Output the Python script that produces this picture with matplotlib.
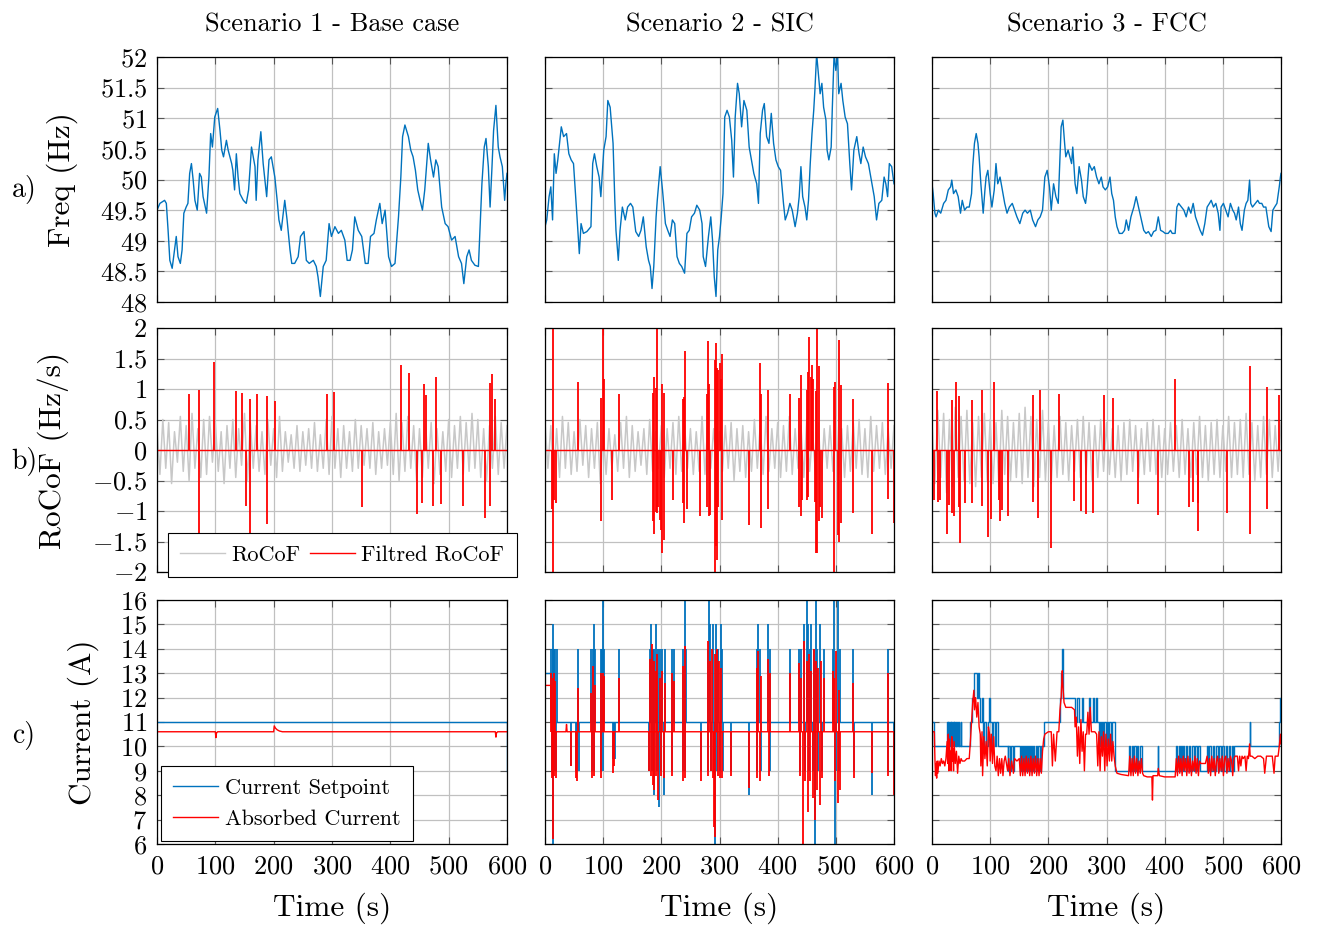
import numpy as np
import matplotlib
matplotlib.use("Agg")
import matplotlib.pyplot as plt
from matplotlib.lines import Line2D
from matplotlib.ticker import FuncFormatter

plt.rcParams["font.family"] = "serif"
plt.rcParams["font.serif"] = ["cmr10", "DejaVu Serif"]
plt.rcParams["mathtext.fontset"] = "cm"
plt.rcParams["axes.formatter.use_mathtext"] = True
plt.rcParams["axes.unicode_minus"] = False

BLUE = "#0072BD"
RED = "#FF0000"
GREY = "#C8C8C8"

titles = ["Scenario 1 - Base case", "Scenario 2 - SIC", "Scenario 3 - FCC"]

# ---- frequency (Hz) ----
f1_t = [0, 5, 13, 16, 19, 22, 26, 30, 33, 36, 40, 43, 46, 50, 53, 56, 59, 62, 65, 69,
        73, 76, 79, 85, 89, 92, 95, 99, 104, 108, 111, 114, 119, 122, 128, 130, 133, 136, 139, 142,
        148, 153, 157, 162, 168, 170, 173, 178, 182, 188, 192, 196, 202, 206, 209, 213, 219, 223, 228, 231,
        236, 242, 246, 252, 256, 261, 268, 273, 276, 280, 285, 290, 295, 299, 305, 311, 316, 322, 326, 331,
        335, 339, 345, 351, 357, 362, 366, 372, 376, 382, 386, 391, 397, 402, 408, 414, 418, 421, 425, 431,
        435, 439, 443, 447, 451, 455, 459, 465, 469, 474, 478, 482, 488, 494, 499, 505, 511, 517, 522, 526,
        531, 535, 539, 545, 551, 557, 561, 564, 568, 571, 574, 577, 581, 585, 588, 592, 596, 598, 600]
f1_v = [49.50, 49.61, 49.66, 49.61, 49.17, 48.68, 48.55, 48.85, 49.07, 48.74,
        48.63, 48.85, 49.45, 49.55, 49.61, 50.10, 50.26, 49.99, 49.66, 49.50,
        50.10, 50.04, 49.72, 49.45, 50.04, 50.75, 50.53, 51.02, 51.16, 50.80,
        50.48, 50.37, 50.64, 50.48, 50.26, 50.15, 49.83, 50.42, 50.04, 49.77,
        49.66, 49.61, 49.83, 50.53, 50.21, 49.66, 50.32, 50.78, 50.26, 49.72,
        50.32, 50.37, 50.04, 49.66, 49.34, 49.17, 49.66, 49.34, 48.85, 48.63,
        48.63, 48.74, 49.07, 49.15, 48.68, 48.63, 48.68, 48.58, 48.41, 48.09,
        48.58, 48.68, 49.28, 49.07, 49.23, 49.12, 49.17, 49.01, 48.68, 48.68,
        48.85, 49.39, 49.17, 49.07, 48.63, 48.63, 49.07, 49.12, 49.34, 49.61,
        49.28, 49.50, 48.74, 48.58, 48.63, 49.39, 50.04, 50.70, 50.89, 50.70,
        50.48, 50.37, 50.15, 49.83, 49.66, 49.50, 49.83, 50.59, 50.32, 50.04,
        50.32, 50.21, 49.55, 49.28, 49.23, 49.01, 49.07, 48.74, 48.63, 48.30,
        48.74, 48.85, 48.68, 48.60, 48.58, 49.93, 50.53, 50.67, 50.21, 49.55,
        50.15, 50.80, 51.21, 50.53, 50.37, 50.21, 49.66, 49.93, 50.10]

f2_t = [0, 3, 7, 10, 13, 16, 19, 22, 25, 28, 32, 37, 41, 45, 49, 52, 55, 59, 62, 66,
        72, 79, 82, 85, 89, 93, 96, 101, 105, 108, 112, 117, 120, 122, 126, 129, 133, 138, 142, 147,
        151, 156, 161, 165, 169, 174, 178, 181, 184, 187, 191, 193, 198, 202, 207, 211, 215, 219, 223, 227,
        231, 235, 240, 244, 248, 252, 257, 261, 266, 270, 272, 276, 281, 285, 288, 291, 294, 297, 300, 303,
        306, 309, 313, 317, 321, 324, 327, 331, 334, 338, 342, 347, 351, 355, 359, 364, 367, 370, 374, 377,
        381, 385, 389, 393, 397, 401, 405, 410, 413, 417, 421, 425, 430, 434, 437, 440, 443, 447, 450, 453,
        456, 459, 462, 464, 467, 470, 473, 476, 479, 483, 485, 488, 492, 494, 497, 500, 503, 505, 509, 512,
        516, 520, 524, 527, 531, 536, 540, 543, 547, 551, 556, 560, 563, 566, 570, 574, 579, 583, 586, 589,
        592, 596, 600]
f2_v = [49.23, 49.34, 49.72, 49.88, 49.34, 50.42, 50.10, 50.32, 50.59, 50.86,
        50.70, 50.75, 50.42, 50.32, 50.26, 49.83, 49.39, 48.79, 49.28, 49.12,
        49.15, 49.23, 50.26, 50.42, 50.21, 50.04, 49.72, 50.48, 50.70, 51.29,
        51.18, 50.59, 49.66, 49.17, 48.68, 49.17, 49.55, 49.34, 49.55, 49.61,
        49.55, 49.15, 49.07, 49.17, 49.39, 48.90, 48.68, 48.58, 48.22, 48.58,
        49.39, 49.66, 50.21, 49.83, 49.28, 49.17, 49.07, 49.34, 49.28, 48.74,
        48.63, 48.58, 48.47, 49.12, 49.17, 49.39, 49.45, 49.58, 49.50, 49.28,
        48.74, 48.58, 49.07, 49.39, 49.01, 48.41, 48.09, 48.85, 49.07, 49.39,
        49.77, 51.02, 51.13, 51.02, 50.64, 50.04, 51.02, 51.57, 51.40, 50.86,
        51.29, 51.13, 50.53, 50.32, 50.10, 49.93, 49.61, 50.75, 51.13, 51.24,
        50.70, 50.59, 51.08, 50.59, 50.32, 50.21, 50.15, 49.61, 49.34, 49.45,
        49.61, 49.50, 49.23, 49.45, 49.72, 50.21, 49.72, 49.55, 49.34, 49.66,
        50.26, 50.75, 51.13, 51.46, 52.05, 51.73, 51.40, 51.57, 51.18, 50.97,
        50.48, 50.32, 50.53, 51.18, 52.05, 51.78, 52.05, 51.40, 51.57, 51.29,
        51.02, 50.91, 50.26, 49.83, 50.48, 50.70, 50.42, 50.26, 50.53, 50.37,
        50.26, 50.04, 49.88, 49.72, 49.34, 49.61, 49.66, 50.04, 49.93, 49.72,
        50.26, 50.21, 49.93]

f3_t = [0, 2, 5, 7, 11, 15, 20, 24, 28, 32, 34, 37, 41, 45, 49, 52, 56, 60, 64, 68,
        70, 73, 76, 79, 81, 84, 88, 91, 93, 96, 100, 103, 107, 110, 113, 117, 121, 125, 129, 133,
        138, 142, 146, 151, 156, 160, 164, 169, 173, 178, 182, 186, 190, 194, 198, 202, 205, 209, 213, 217,
        219, 222, 225, 228, 230, 234, 237, 240, 242, 246, 249, 253, 257, 260, 264, 266, 270, 275, 279, 283,
        287, 291, 294, 298, 302, 306, 309, 312, 315, 318, 322, 327, 331, 334, 338, 342, 347, 351, 355, 360,
        364, 368, 372, 377, 381, 385, 389, 393, 397, 401, 406, 410, 413, 418, 421, 424, 429, 433, 437, 441,
        445, 449, 453, 457, 461, 465, 469, 473, 477, 480, 484, 488, 492, 495, 497, 501, 505, 509, 513, 517,
        520, 523, 527, 530, 533, 537, 540, 543, 546, 548, 551, 556, 560, 563, 567, 570, 574, 579, 583, 586,
        589, 593, 597, 599, 600]
f3_v = [49.93, 49.77, 49.45, 49.39, 49.50, 49.45, 49.61, 49.66, 49.83, 49.88,
        49.99, 49.77, 49.83, 49.72, 49.45, 49.66, 49.50, 49.55, 49.55, 49.77,
        50.21, 50.59, 50.75, 50.59, 50.37, 49.93, 49.45, 49.83, 50.04, 50.15,
        49.77, 49.55, 49.83, 50.26, 49.93, 50.04, 49.83, 49.61, 49.45, 49.55,
        49.61, 49.50, 49.39, 49.28, 49.45, 49.50, 49.45, 49.50, 49.34, 49.23,
        49.34, 49.39, 49.50, 50.04, 50.15, 49.88, 49.50, 49.93, 49.72, 49.61,
        50.10, 50.86, 50.97, 50.59, 50.37, 50.48, 50.37, 50.26, 50.53, 49.93,
        49.77, 50.21, 49.99, 49.72, 49.61, 49.77, 50.26, 50.15, 50.21, 50.04,
        49.93, 50.04, 49.88, 49.83, 49.88, 50.04, 49.77, 49.66, 49.39, 49.23,
        49.12, 49.12, 49.17, 49.34, 49.17, 49.39, 49.55, 49.72, 49.55, 49.34,
        49.17, 49.12, 49.15, 49.07, 49.15, 49.17, 49.39, 49.17, 49.15, 49.12,
        49.12, 49.17, 49.12, 49.12, 49.55, 49.61, 49.55, 49.50, 49.39, 49.55,
        49.45, 49.61, 49.39, 49.28, 49.17, 49.09, 49.28, 49.55, 49.61, 49.66,
        49.55, 49.61, 49.45, 49.17, 49.55, 49.61, 49.50, 49.39, 49.61, 49.50,
        49.45, 49.34, 49.55, 49.28, 49.17, 49.50, 49.61, 49.66, 49.99, 49.61,
        49.55, 49.61, 49.66, 49.61, 49.61, 49.55, 49.55, 49.23, 49.15, 49.50,
        49.55, 49.61, 49.88, 50.04, 50.10]

# ---- raw RoCoF (Hz/s), one sample every 5 s ----
r1 = [0.35, -0.40, 0.50, -0.30, 0.45, -0.55, 0.30, -0.20, 0.55, -0.35, 0.40, -0.50, 0.60, -0.30, 0.35,
      -0.45, 0.50, -0.40, 0.55, -0.20, 0.45, -0.35, 0.30, -0.55, 0.40, -0.30, 0.50, -0.45, 0.35, -0.25,
      0.60, -0.50, 0.45, -0.30, 0.40, -0.35, 0.30, -0.40, 0.50, -0.25, 0.35, -0.45, 0.55, -0.35, 0.30,
      -0.20, 0.25, -0.30, 0.40, -0.35, 0.30, -0.25, 0.35, -0.30, 0.45, -0.35, 0.25, -0.30, 0.50, -0.40,
      0.55, -0.30, 0.35, -0.45, 0.40, -0.30, 0.30, -0.35, 0.50, -0.30, 0.40, -0.25, 0.35, -0.30, 0.45,
      -0.40, 0.30, -0.30, 0.35, -0.25, 0.45, -0.40, 0.60, -0.50, 0.45, -0.35, 0.55, -0.30, 0.40, -0.50,
      0.35, -0.45, 0.50, -0.30, 0.45, -0.55, 0.35, -0.40, 0.30, -0.35, 0.50, -0.45, 0.40, -0.30, 0.55,
      -0.40, 0.45, -0.35, 0.60, -0.30, 0.50, -0.45, 0.35, -0.50, 0.40, -0.30, 0.55, -0.40, 0.45, -0.30, 0.40]
r2 = [0.45, -0.30, 0.40, -0.50, 0.35, -0.45, 0.55, -0.30, 0.45, -0.40, 0.30, -0.35, 0.50, -0.25, 0.40,
      -0.45, 0.35, -0.30, 0.45, -0.55, 0.30, -0.40, 0.35, -0.30, 0.25, -0.35, 0.45, -0.30, 0.55, -0.45,
      0.40, -0.35, 0.30, -0.25, 0.35, -0.40, 0.50, -0.35, 0.30, -0.30, 0.40, -0.45, 0.35, -0.30, 0.45,
      -0.40, 0.55, -0.35, 0.40, -0.30, 0.35, -0.40, 0.30, -0.35, 0.55, -0.40, 0.45, -0.30, 0.35, -0.25,
      0.30, -0.35, 0.40, -0.30, 0.45, -0.50, 0.35, -0.35, 0.40, -0.45, 0.30, -0.35, 0.50, -0.30, 0.40,
      -0.40, 0.55, -0.35, 0.35, -0.30, 0.45, -0.45, 0.40, -0.35, 0.55, -0.40, 0.35, -0.30, 0.40, -0.45,
      0.50, -0.35, 0.30, -0.40, 0.45, -0.50, 0.35, -0.30, 0.40, -0.35, 0.55, -0.40, 0.35, -0.45, 0.40,
      -0.35, 0.45, -0.30, 0.50, -0.40, 0.35, -0.45, 0.55, -0.35, 0.40, -0.30, 0.45, -0.40, 0.35, -0.30, 0.40]
r3 = [0.45, -0.55, 0.65, -0.45, 0.60, -0.70, 0.50, -0.60, 0.70, -0.45, 0.55, -0.50, 0.65, -0.55, 0.45,
      -0.60, 0.55, -0.45, 0.60, -0.50, 0.50, -0.55, 0.45, -0.60, 0.65, -0.40, 0.55, -0.50, 0.45, -0.45,
      0.60, -0.55, 0.70, -0.45, 0.55, -0.60, 0.50, -0.45, 0.65, -0.50, 0.45, -0.55, 0.40, -0.45, 0.55,
      -0.40, 0.45, -0.50, 0.40, -0.35, 0.50, -0.45, 0.55, -0.40, 0.45, -0.50, 0.40, -0.45, 0.50, -0.35,
      0.45, -0.40, 0.35, -0.45, 0.40, -0.50, 0.45, -0.40, 0.50, -0.35, 0.40, -0.45, 0.35, -0.40, 0.45,
      -0.35, 0.50, -0.40, 0.40, -0.45, 0.35, -0.40, 0.45, -0.35, 0.40, -0.45, 0.50, -0.40, 0.35, -0.45,
      0.45, -0.40, 0.55, -0.45, 0.40, -0.50, 0.45, -0.40, 0.50, -0.45, 0.40, -0.35, 0.55, -0.45, 0.45,
      -0.40, 0.50, -0.45, 0.60, -0.40, 0.45, -0.50, 0.40, -0.45, 0.55, -0.40, 0.50, -0.45, 0.40, -0.35, 0.45]

# ---- filtered RoCoF: spike times (s) and peak values (Hz/s) ----
s1_t = [54, 72, 98, 135, 145, 159, 171, 189, 203, 292, 303, 419, 432, 458, 461, 478, 571, 574, 580,
        72, 153, 159, 188, 351, 445, 454, 474, 487, 525, 563, 571]
s1_v = [0.92, 0.98, 1.45, 0.97, 0.93, 0.84, 0.92, 0.89, 0.81, 0.92, 0.95, 1.39, 1.26, 1.08, 0.90, 1.19, 1.10, 1.25, 0.84,
        -1.40, -0.91, -1.43, -1.22, -0.93, -1.05, -0.87, -0.91, -0.89, -0.91, -1.11, -0.91]
s2_t = [0, 12, 14, 14, 16, 19, 57, 97, 97, 99, 101, 116, 128,
        185, 185, 188, 188, 190, 190, 192, 192, 195, 198, 200, 202, 202, 204, 204,
        220, 237, 237, 239, 239, 241, 244, 267,
        278, 278, 280, 282, 282, 284, 292, 292, 294, 294, 296, 296, 298, 298, 300, 303, 305, 305,
        350, 369, 371, 371, 384, 384, 421, 437, 437, 440, 440, 442,
        450, 450, 452, 452, 454, 457, 459, 461, 464, 466, 466, 468, 468, 471, 471, 473, 476,
        497, 497, 499, 503, 506, 506, 509, 509, 530, 530, 563, 589, 589, 600]
s2_v = [0.87, -0.96, 2.1, -2.1, -0.82, -0.87, 1.11, 0.85, -1.16, 2.1, 1.17, -0.82, 0.92,
        0.94, -1.17, 1.20, -1.37, 1.01, -1.01, 2.1, -1.03, -0.93, -1.15, -1.31, 1.08, -1.69, 0.93, -1.48,
        -0.82, 0.83, -0.87, 0.87, -1.20, 1.63, -0.96, -1.09,
        0.92, -0.93, 1.78, 1.09, -1.09, -1.07, 1.48, -2.1, 1.75, -1.58, 1.34, -1.80, 1.31, -0.93, 1.42, 1.17, 1.58, -1.15,
        -1.23, 1.43, 0.92, -1.28, 0.98, -0.96, 0.92, 0.85, -0.93, 1.23, -1.09, -0.82,
        0.98, -0.82, 1.28, -0.77, 1.86, 1.20, 1.39, 1.17, -0.85, 0.96, -1.69, 2.1, -1.69, 1.37, -1.17, -0.93, -1.12,
        1.04, -2.1, 1.12, -1.39, 1.80, -1.50, 1.07, -1.20, 0.83, -1.03, -1.37, 1.10, -0.81, -1.20]
s3_t = [3, 9, 11, 14, 26, 30, 34, 34, 38, 41, 46, 46, 48, 56, 68, 68, 86, 86, 97, 101, 107, 115, 117, 120,
        131, 174, 174, 182, 186, 205, 219, 244, 257, 264, 276, 295, 311, 354, 389, 418, 441, 448, 457, 458,
        507, 546, 546, 576, 576, 597]
s3_v = [-0.82, 0.97, -0.86, -0.82, -1.38, -0.90, 0.82, -1.03, -1.08, 1.11, 0.89, -0.94, -1.52, -0.87, 0.82, -0.87,
        0.99, -0.91, -1.42, -1.13, 1.12, -0.82, -1.16, -0.98, -1.09, 0.90, -0.86, -1.12, 0.99, -1.61, 0.92, -0.83,
        -1.00, -1.05, -1.04, 0.90, 0.86, -0.89, -1.07, 1.16, -0.93, -0.85, -1.33, -0.87, -1.04, 1.38, -1.37,
        1.04, -0.96, 0.90]

# ---- currents (A) ----
c1_set_t = [0, 600, 600]
c1_set_v = [11, 11, 9]
c1_abs_t = [0, 100, 101, 102, 104, 200, 201, 203, 206, 210, 215, 580, 581, 582, 584, 600]
c1_abs_v = [10.6, 10.6, 10.36, 10.55, 10.6, 10.6, 10.84, 10.75, 10.68, 10.63, 10.6, 10.6, 10.38, 10.55, 10.6, 10.6]

c2_set_t = [0, 10, 10, 600]
c2_set_v = [13, 13, 11, 11]
c2_abs_t = [0, 10, 11, 12, 36, 37, 38, 600]
c2_abs_v = [12.5, 12.5, 11.0, 10.6, 10.6, 10.9, 10.6, 10.6]
c2_sp_t = [11, 12, 13, 14, 14.5, 15, 16, 17, 18, 19, 20, 45, 53, 55, 57, 58, 79, 80, 82, 84, 85, 86,
           96, 97, 98, 99, 100, 101, 117, 119, 121, 128, 179, 181, 183, 184, 185, 187, 188, 190, 192, 194,
           196, 198, 200, 202, 204, 206, 218, 219, 221, 237, 238, 240, 241, 243, 268, 280, 281, 282, 284,
           286, 288, 290, 292, 294, 296, 298, 300, 302, 304, 306, 319, 351, 364, 365, 367, 369, 371, 384,
           386, 387, 421, 437, 438, 440, 445, 447, 450, 452, 454, 456, 458, 460, 462, 464, 466, 468, 470,
           473, 476, 479, 495, 497, 498, 500, 504, 506, 508, 530, 531, 563, 589, 590, 600]
c2_sp_v = [14, 9, 14, 15, 6, 9, 14, 9, 14, 9, 14, 9.2, 9, 9, 14, 9, 14, 9, 14, 15, 9, 14,
           14, 9, 14, 16, 9, 14, 9.5, 9.5, 9.5, 14, 9, 14, 15, 9, 14, 14, 8, 15, 9, 14,
           7.5, 14, 9, 14, 8, 14, 14, 9, 14, 14, 9, 16, 9, 14, 9, 14, 9, 16, 15,
           9, 15, 9, 6, 15, 9, 14, 9, 15, 14, 9, 9, 8, 14, 9, 15, 14, 9, 15,
           14, 9, 14, 14, 9, 14, 15, 9, 16, 15, 9, 14, 15, 9, 14, 6, 16, 14, 9,
           15, 9, 14, 14, 16, 6, 9, 16, 9, 14, 14, 9, 8, 14, 9, 9]
c2_ab_t = [11, 12, 13, 14, 15, 16, 18, 19, 45, 53, 55, 57, 79, 81, 83, 84, 86, 96, 97, 99, 101, 117, 119,
           128, 179, 181, 182, 184, 185, 187, 188, 190, 191, 193, 195, 197, 199, 202, 204, 206, 218, 219,
           221, 237, 238, 240, 241, 268, 280, 281, 283, 285, 287, 288, 290, 292, 293, 295, 297, 299, 301,
           303, 305, 319, 351, 364, 365, 367, 369, 371, 384, 385, 387, 421, 437, 438, 440, 443, 445, 447,
           450, 452, 454, 456, 458, 460, 462, 464, 466, 468, 470, 472, 474, 476, 479, 495, 497, 499, 501,
           503, 505, 508, 530, 531, 563, 589, 590, 600]
c2_ab_v = [13, 8.7, 12.8, 6.2, 13, 8.8, 12.7, 8.7, 9.2, 8.7, 8.6, 12.4, 12.2, 8.7, 13.3, 8.8, 12.5, 13, 8.7, 13, 12.9, 8.9, 9.2,
           12.8, 9, 13.6, 8.8, 14.2, 8.4, 13.5, 8.2, 13.1, 8.8, 13.8, 7.8, 12.8, 8.8, 13.1, 8.7, 12.6, 13, 8.8,
           12.7, 13.3, 8.6, 14.1, 8.7, 8.6, 14.3, 8.8, 13.5, 9, 14, 8.7, 6.7, 13.8, 6.3, 14, 8.8, 13.5, 8.7,
           13.2, 8.7, 8.8, 8.3, 13.2, 8.7, 13.9, 8.6, 12.9, 13.6, 8.8, 13, 13, 13.4, 8.8, 12.8, 6, 14.3, 8.6,
           13.5, 7.3, 13.8, 8.6, 13.1, 7.9, 14, 7, 13.5, 8.2, 13.2, 7.6, 13.5, 8.7, 12.8, 13.1, 12.8, 8.6, 13.9,
           7.7, 12.3, 8.2, 12.6, 8.7, 8.9, 13, 8.8, 8]

c3_set_t = [0, 4, 26, 27, 28, 29.5, 31, 32, 33, 35, 36, 37, 38, 40, 41, 42, 43, 45, 46, 47, 49, 50,
            66, 68, 72, 77, 79, 80, 82, 86, 87, 88, 90, 92, 96, 98, 99, 103, 105, 108, 110, 114,
            130, 131, 134, 136, 140, 141, 152, 153, 155, 157, 158, 160, 162, 163, 165, 167, 169, 170, 172,
            174, 176, 178, 180, 182, 185, 187, 192, 220, 222, 224, 225, 226, 246, 250, 252, 258, 260, 270,
            272, 276, 278, 282, 283, 287, 288, 290, 292, 294, 296, 299, 300, 303, 305, 308, 310, 315,
            338, 340, 343, 345, 348, 350, 353, 355, 358, 361, 388, 389, 420, 422, 424, 426, 428, 430, 432,
            434, 437, 439, 442, 444, 447, 450, 453, 455, 458, 460, 473, 475, 477, 480, 483, 485, 488, 491,
            494, 496, 499, 502, 505, 507, 510, 512, 515, 517, 520, 546, 546.5, 595, 597, 598, 600]
c3_set_v = [11, 10, 11, 10, 11, 10, 11, 10, 11, 10, 11, 10, 11, 10, 11, 10, 11, 10, 11, 10, 11, 10,
            11, 12, 13, 12, 13, 12, 11, 12, 11, 10, 11, 10, 11, 12, 11, 10, 11, 10, 11, 10,
            9, 10, 9, 10, 9, 10, 9, 10, 9, 10, 9, 10, 9, 10, 9, 10, 9, 10, 9,
            10, 9, 10, 9, 10, 9, 10, 11, 12, 13, 14, 13, 12, 11, 12, 11, 12, 11, 12,
            11, 12, 11, 12, 11, 10, 11, 10, 11, 10, 11, 10, 11, 10, 11, 10, 11, 9,
            10, 9, 10, 9, 10, 9, 10, 9, 10, 9, 10, 9, 10, 9, 10, 9, 10, 9, 10,
            9, 10, 9, 10, 9, 10, 9, 10, 9, 10, 9, 10, 9, 10, 9, 10, 9, 10, 9,
            10, 9, 10, 9, 10, 9, 10, 9, 10, 9, 10, 11, 10, 10, 11, 12, 12]
c3_abs_t = [0, 4, 5, 6, 7, 8, 9, 10, 12, 14, 16, 18, 20, 22, 24, 26, 27, 28, 29, 30, 31, 32, 33, 34, 35, 36, 37,
            38, 40, 42, 44, 46, 48, 50, 52, 56, 60, 64, 66, 68, 70, 72, 73, 75, 77, 79, 81, 83, 84, 86, 87,
            89, 91, 93, 95, 97, 99, 100, 102, 104, 106, 108, 110, 112, 114, 116, 118, 120, 122, 124, 126,
            130, 132, 134, 137, 140, 142, 146, 150, 152, 154, 156, 158, 160, 162, 164, 166, 168, 170, 172,
            174, 176, 178, 180, 182, 184, 186, 188, 190, 192, 194, 200, 205, 207, 209, 212, 215, 218, 220,
            222, 224, 225, 227, 230, 240, 245, 246, 248, 250, 252, 254, 256, 258, 260, 262, 264, 266, 268,
            270, 272, 274, 276, 280, 283, 285, 287, 289, 291, 293, 295, 297, 299, 301, 303, 305, 307, 309,
            311, 313, 315, 318, 325, 338, 340, 342, 344, 346, 348, 350, 352, 354, 356, 358, 360, 362, 364,
            370, 378, 379, 380, 388, 389, 391, 400, 418, 420, 422, 424, 426, 428, 430, 432, 434, 436, 438,
            440, 442, 444, 446, 448, 450, 452, 454, 456, 458, 460, 462, 470, 473, 475, 477, 479, 481, 483,
            485, 487, 489, 491, 493, 495, 497, 499, 501, 503, 505, 507, 509, 511, 513, 515, 517, 519, 521,
            525, 527, 529, 531, 533, 535, 538, 540, 542, 544, 546, 547, 550, 555, 560, 565, 570, 572, 575,
            580, 585, 588, 590, 595, 597, 599, 600]
c3_abs_v = [10.6, 10.6, 9.5, 8.8, 9.3, 8.7, 9.4, 8.9, 9.4, 9.2, 9.5, 9.3, 9.4, 9.2, 9.5, 10.2, 9.3, 10.5, 9.0, 10.3, 9.5, 9.8, 9.0, 10.4, 9.4, 9.9, 9.0,
            10.2, 9.3, 9.8, 8.9, 9.6, 9.3, 9.5, 9.4, 9.4, 9.5, 9.5, 10.2, 11.0, 11.8, 12.3, 11.5, 12.0, 11.2, 11.8, 10.8, 10.5, 9.2, 10.6, 8.8,
            10.4, 9.5, 10.2, 9.2, 10.8, 10.5, 9.4, 10.5, 9.3, 10.4, 9.2, 9.0, 9.6, 8.8, 9.5, 8.9, 9.5, 8.8, 9.4, 9.6,
            9.0, 9.5, 8.8, 9.4, 8.9, 9.5, 9.4, 9.5, 8.8, 9.6, 8.8, 9.5, 8.8, 9.6, 8.9, 9.5, 8.8, 9.6, 8.8,
            9.5, 8.9, 9.6, 8.8, 9.5, 8.8, 9.5, 8.9, 9.8, 10.3, 10.5, 10.6, 10.6, 9.2, 10.5, 9.4, 10.6, 10.6, 11.5,
            12.0, 13.1, 12.5, 11.8, 11.6, 11.6, 11.5, 10.8, 11.2, 9.6, 10.8, 9.3, 11.1, 9.8, 10.6, 9.0, 10.5, 10.5, 11.4,
            10.5, 11.6, 10.6, 10.6, 10.6, 10.5, 9.2, 10.6, 9.0, 10.4, 9.6, 10.6, 9.0, 10.5, 9.2, 10.3, 9.4, 10.5, 9.4,
            10.2, 9.6, 9.2, 8.9, 8.85, 8.8, 9.6, 8.8, 9.5, 8.8, 9.6, 8.9, 9.5, 8.8, 9.4, 8.9, 9.5, 8.9, 8.8,
            8.75, 8.75, 7.8, 8.8, 8.8, 9.1, 8.8, 8.75, 8.75, 9.5, 8.8, 9.6, 8.9, 9.5, 8.8, 9.6, 9.0, 9.5, 8.8,
            9.6, 8.9, 9.5, 8.8, 9.4, 9.0, 9.6, 8.9, 9.5, 8.8, 9.4, 9.3, 9.3, 9.6, 8.9, 9.5, 8.8, 9.6, 9.0,
            9.5, 8.8, 9.4, 9.6, 8.9, 9.5, 9.0, 9.6, 8.8, 9.5, 9.6, 8.9, 9.5, 9.0, 9.6, 9.4, 8.8, 9.5, 9.6,
            9.6, 9.0, 9.6, 9.2, 9.6, 9.5, 9.6, 9.0, 9.6, 9.5, 10.1, 9.6, 9.6, 9.5, 9.6, 9.6, 9.5, 8.9, 9.6,
            9.6, 9.6, 8.9, 9.6, 9.6, 10.0, 10.5, 10.1]

freq = [(f1_t, f1_v), (f2_t, f2_v), (f3_t, f3_v)]
rocof = [r1, r2, r3]
spikes = [(s1_t, s1_v), (s2_t, s2_v), (s3_t, s3_v)]

W, H = 1317, 926
fig = plt.figure(figsize=(W / 100, H / 100), dpi=100)

col_left = [157, 545, 932]
col_w = [350, 349, 349]
row_top = [57, 328, 600]
row_h = [245, 244, 244]

fmt = FuncFormatter(lambda v, p: "$%g$" % v)
axes = [[None] * 3 for _ in range(3)]
for r in range(3):
    for c in range(3):
        ax = fig.add_axes([col_left[c] / W, 1 - (row_top[r] + row_h[r]) / H, col_w[c] / W, row_h[r] / H])
        axes[r][c] = ax
        ax.set_xlim(0, 600)
        ax.set_xticks(range(0, 601, 100))
        ax.grid(True, color="#C0C0C0", lw=0.9)
        ax.set_axisbelow(True)
        ax.tick_params(direction="in", top=True, right=True, length=5, width=0.8,
                       color="#555555", labelsize=19)
        ax.tick_params(axis="y", pad=7)
        ax.tick_params(axis="x", pad=8)
        for s in ax.spines.values():
            s.set_linewidth(0.9)
        ax.yaxis.set_major_formatter(fmt)
        ax.xaxis.set_major_formatter(fmt)
        if c > 0:
            ax.tick_params(labelleft=False)
        if r < 2:
            ax.tick_params(labelbottom=False)
        else:
            ax.set_xlabel("Time (s)", fontsize=22.5, labelpad=10)

for c in range(3):
    # row 1: frequency
    ax = axes[0][c]
    ax.plot(freq[c][0], freq[c][1], color=BLUE, lw=1.0)
    ax.set_ylim(48, 52)
    ax.set_yticks(np.arange(48, 52.01, 0.5))
    ax.set_title(titles[c], fontsize=19, pad=18)

    # row 2: RoCoF
    ax = axes[1][c]
    tg = np.linspace(0, 600, len(rocof[c]))
    ax.plot(tg, rocof[c], color=GREY, lw=1.1)
    ax.axhline(0, color=RED, lw=1.0)
    ax.vlines(spikes[c][0], 0, spikes[c][1], color=RED, lw=1.3)
    ax.set_ylim(-2, 2)
    ax.set_yticks(np.arange(-2, 2.01, 0.5))

    # row 3: current
    ax = axes[2][c]
    ax.set_ylim(6, 16)
    ax.set_yticks(range(6, 17))

ax = axes[2][0]
ax.plot(c1_set_t, c1_set_v, color=BLUE, lw=1.0)
ax.plot(c1_abs_t, c1_abs_v, color=RED, lw=1.0)

ax = axes[2][1]
ax.plot(c2_set_t, c2_set_v, color=BLUE, lw=1.0)
ax.vlines(c2_sp_t, 11, c2_sp_v, color=BLUE, lw=1.3)
ax.plot(c2_abs_t, c2_abs_v, color=RED, lw=1.0)
ax.vlines(c2_ab_t, 10.6, c2_ab_v, color=RED, lw=1.3)

ax = axes[2][2]
ax.plot(c3_set_t, c3_set_v, color=BLUE, lw=1.0, drawstyle="steps-post")
ax.plot(c3_abs_t, c3_abs_v, color=RED, lw=1.0)

# legends
leg = axes[1][0].legend([Line2D([], [], color=GREY, lw=1), Line2D([], [], color=RED, lw=1)],
                        ["RoCoF", "Filtred RoCoF"], ncol=2, loc="lower left",
                        bbox_to_anchor=(0.031, -0.02), borderaxespad=0, fontsize=16,
                        fancybox=False, edgecolor="black", framealpha=1,
                        handlelength=2.0, columnspacing=0.45, handletextpad=0.3,
                        borderpad=0.55)
leg.get_frame().set_linewidth(0.8)
leg = axes[2][0].legend([Line2D([], [], color=BLUE, lw=1), Line2D([], [], color=RED, lw=1)],
                        ["Current Setpoint", "Absorbed Current"], loc="lower left",
                        bbox_to_anchor=(0.011, 0.012), borderaxespad=0, fontsize=16,
                        fancybox=False, edgecolor="black", framealpha=1,
                        handlelength=2.0, handletextpad=0.35, labelspacing=0.5,
                        borderpad=0.55)
leg.get_frame().set_linewidth(0.8)

# y labels and panel letters
fig.text(62 / W, 1 - 180 / H, "Freq (Hz)", rotation=90, ha="center", va="center", fontsize=22.5)
fig.text(53 / W, 1 - 450 / H, "RoCoF (Hz/s)", rotation=90, ha="center", va="center", fontsize=22.5)
fig.text(83 / W, 1 - 722 / H, "Current (A)", rotation=90, ha="center", va="center", fontsize=22.5)
for txt, y in [("a)", 190), ("b)", 462), ("c)", 735)]:
    fig.text(24 / W, 1 - y / H, txt, ha="center", va="center", fontsize=20)

fig.savefig("out.png", dpi=100)
